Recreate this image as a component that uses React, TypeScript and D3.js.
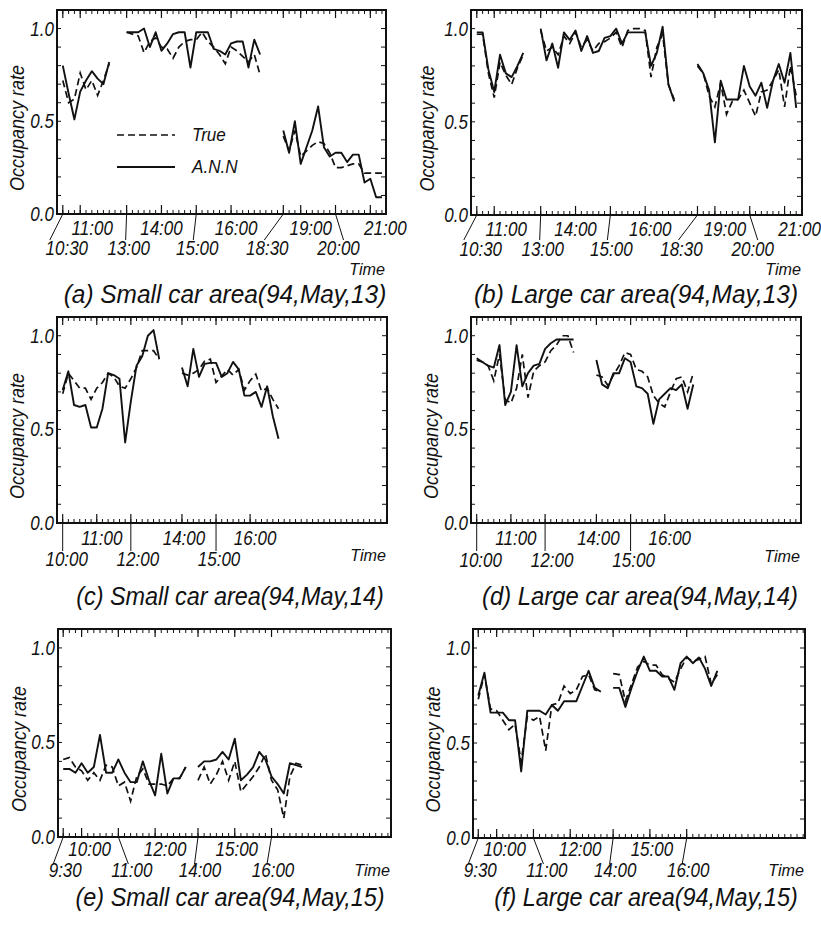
import * as d3 from 'd3';
import React from 'react';

// occupancy rate, one value per 10 minutes, one inner array per time segment
const annA = [
  [0.8, 0.65, 0.51, 0.66, 0.72, 0.77, 0.73, 0.7, 0.82],
  [0.98, 0.98, 0.98, 1.0, 0.9, 0.98, 0.88, 0.92, 0.97, 0.98, 0.98, 0.79, 0.98, 0.98, 0.98, 0.89, 0.88, 0.86, 0.92, 0.93, 0.93, 0.79, 0.94, 0.86],
  [0.45, 0.33, 0.5, 0.27, 0.36, 0.45, 0.58, 0.36, 0.31, 0.33, 0.33, 0.28, 0.32, 0.32, 0.17, 0.19, 0.09, 0.09],
];
const trueA = [
  [0.72, 0.6, 0.62, 0.76, 0.67, 0.72, 0.64, 0.72, 0.81],
  [0.98, 0.97, 0.96, 0.87, 0.93, 0.95, 0.9, 0.89, 0.84, 0.9, 0.93, 0.94, 0.94, 0.98, 0.93, 0.9, 0.86, 0.81, 0.9, 0.88, 0.85, 0.82, 0.86, 0.75],
  [0.42, 0.34, 0.45, 0.31, 0.34, 0.37, 0.39, 0.38, 0.33, 0.25, 0.25, 0.26, 0.27, 0.27, 0.22, 0.22, 0.22, 0.22],
];
const annB = [
  [0.98, 0.98, 0.78, 0.66, 0.86, 0.76, 0.74, 0.8, 0.87],
  [1.0, 0.83, 0.92, 0.79, 0.98, 0.94, 0.99, 0.88, 0.96, 0.87, 0.88, 0.95, 0.96, 1.0, 0.92, 0.98, 0.98, 0.98, 0.98, 0.8, 0.87, 1.01, 0.7, 0.61],
  [0.81, 0.76, 0.67, 0.39, 0.72, 0.62, 0.62, 0.62, 0.8, 0.69, 0.64, 0.71, 0.575, 0.72, 0.81, 0.71, 0.87, 0.575],
];
const trueB = [
  [0.97, 0.97, 0.76, 0.63, 0.82, 0.75, 0.7, 0.79, 0.86],
  [0.99, 0.88, 0.9, 0.86, 0.96, 0.92, 0.98, 0.9, 0.94, 0.88, 0.92, 0.93, 0.95, 0.98, 0.9, 0.99, 1.0, 1.0, 0.99, 0.74, 0.9, 0.97, 0.7, 0.62],
  [0.8, 0.76, 0.64, 0.58, 0.71, 0.54, 0.61, 0.62, 0.67, 0.6, 0.53, 0.66, 0.67, 0.72, 0.78, 0.58, 0.8, 0.64],
];
const annC = [
  [0.71, 0.81, 0.63, 0.62, 0.63, 0.51, 0.51, 0.61, 0.8, 0.79, 0.77, 0.43, 0.65, 0.84, 0.89, 1.0, 1.03, 0.875],
  [0.83, 0.73, 0.93, 0.78, 0.85, 0.855, 0.855, 0.78, 0.8, 0.86, 0.82, 0.68, 0.68, 0.7, 0.62, 0.73, 0.57, 0.45],
];
const trueC = [
  [0.69, 0.8, 0.76, 0.72, 0.72, 0.66, 0.72, 0.75, 0.8, 0.78, 0.73, 0.72, 0.77, 0.83, 0.92, 0.92, 0.92, 0.875],
  [0.8, 0.79, 0.8, 0.82, 0.865, 0.875, 0.75, 0.785, 0.82, 0.79, 0.82, 0.71, 0.76, 0.795, 0.705, 0.72, 0.66, 0.61],
];
const annD = [
  [0.88, 0.86, 0.84, 0.83, 0.95, 0.63, 0.7, 0.95, 0.73, 0.8, 0.84, 0.85, 0.93, 0.96, 0.98, 0.98, 0.98, 0.98],
  [0.87, 0.74, 0.72, 0.8, 0.8, 0.88, 0.86, 0.73, 0.72, 0.69, 0.53, 0.66, 0.69, 0.72, 0.71, 0.74, 0.61, 0.74],
];
const trueD = [
  [0.87, 0.86, 0.84, 0.76, 0.9, 0.66, 0.64, 0.72, 0.9, 0.67, 0.81, 0.84, 0.86, 0.92, 0.95, 1.0, 1.0, 0.91],
  [0.79, 0.78, 0.735, 0.79, 0.84, 0.91, 0.9, 0.82, 0.81, 0.78, 0.68, 0.64, 0.62, 0.7, 0.77, 0.78, 0.7, 0.8],
];
const annE = [
  [0.36, 0.36, 0.34, 0.39, 0.34, 0.37, 0.54, 0.34, 0.34, 0.41, 0.34, 0.29, 0.29, 0.4, 0.3, 0.22, 0.44, 0.23, 0.31, 0.31, 0.37],
  [0.37, 0.4, 0.4, 0.41, 0.45, 0.41, 0.52, 0.3, 0.33, 0.37, 0.45, 0.41, 0.32, 0.28, 0.23, 0.39, 0.38, 0.37],
];
const trueE = [
  [0.41, 0.42, 0.37, 0.35, 0.3, 0.34, 0.3, 0.38, 0.37, 0.27, 0.29, 0.19, 0.32, 0.36, 0.28, 0.28, 0.28, 0.27, 0.31, 0.31, 0.37],
  [0.3, 0.37, 0.28, 0.33, 0.4, 0.3, 0.4, 0.24, 0.28, 0.32, 0.37, 0.44, 0.3, 0.25, 0.1, 0.32, 0.39, 0.38],
];
const annF = [
  [0.75, 0.87, 0.66, 0.66, 0.66, 0.62, 0.62, 0.35, 0.67, 0.67, 0.67, 0.65, 0.7, 0.67, 0.72, 0.72, 0.72, 0.8, 0.88, 0.79, 0.77],
  [0.79, 0.79, 0.69, 0.79, 0.88, 0.955, 0.88, 0.88, 0.85, 0.85, 0.78, 0.92, 0.955, 0.92, 0.95, 0.89, 0.8, 0.88],
];
const trueF = [
  [0.73, 0.86, 0.68, 0.67, 0.62, 0.57, 0.6, 0.4, 0.64, 0.62, 0.64, 0.46, 0.7, 0.71, 0.8, 0.76, 0.78, 0.85, 0.86, 0.78, 0.77],
  [0.865, 0.86, 0.72, 0.81, 0.9, 0.93, 0.91, 0.91, 0.86, 0.84, 0.82, 0.89, 0.95, 0.93, 0.94, 0.955, 0.81, 0.86],
];

// segment start times and the 10-minute step where each segment begins on the axis
const breaks13 = [['10:30', 0], ['13:00', 11], ['18:30', 38]];
const breaks14 = [['10:00', 0], ['14:00', 21]];
const breaks15 = [['9:30', 0], ['14:00', 22]];

const upper13 = ['11:00', '14:00', '16:00', '19:00', '21:00'];
const lower13 = ['10:30', '13:00', '15:00', '18:30', '20:00'];
const upper14 = ['11:00', '14:00', '16:00'];
const lower14 = ['10:00', '12:00', '15:00'];
const upper15 = ['10:00', '12:00', '15:00'];
const lower15 = ['9:30', '11:00', '14:00', '16:00'];

const yTicks = [0, 0.5, 1.0];
const titles = [
  '(a) Small car area(94,May,13)',
  '(b) Large car area(94,May,13)',
  '(c) Small car area(94,May,14)',
  '(d) Large car area(94,May,14)',
  '(e) Small car area(94,May,15)',
  '(f) Large car area(94,May,15)',
];
const legendNames = ['True', 'A.N.N'];

// layout: label nudges relative to their tick [labelDx, leaderDx]
const nudge13 = { up: [12, 0, 5, 10, 15], low: [[4, -13], [2, -1], [1, -3], [-16, -19], [3, 8]] };
const nudge14 = { up: [5, 2, 5], low: [[4, 0], [7, 0], [3, 0]] };
const nudge15 = { up: [8, 10, 2], low: [[2, -10], [13.5, 10], [2, -3.5], [1.5, -4.5]] };

const panels = [
  { box: [57, 386, 10, 214], dom: [-1, 55.7], breaks: breaks13, up: upper13, low: lower13, nudge: nudge13, ann: annA, tru: trueA, title: titles[0], tx: 225, ty: 303, ts: 26, tsx: 0.94, yl: 17, rows: [235, 255, 240], timeY: 275, legend: true },
  { box: [471, 802, 10, 215], dom: [-1, 56], breaks: breaks13, up: upper13, low: lower13, nudge: nudge13, ann: annB, tru: trueB, title: titles[1], tx: 636, ty: 303, ts: 26, tsx: 0.94, yl: 427, rows: [236, 256, 240], timeY: 275 },
  { box: [57, 387, 317, 523], dom: [-1, 57.1], breaks: breaks14, up: upper14, low: lower14, nudge: nudge14, ann: annC, tru: trueC, title: titles[2], tx: 230, ty: 605, ts: 26, tsx: 0.9, yl: 17, rows: [545, 566, 551], timeY: 561 },
  { box: [471, 801, 317, 523], dom: [-1, 56.9], breaks: breaks14, up: upper14, low: lower14, nudge: nudge14, ann: annD, tru: trueD, title: titles[3], tx: 640, ty: 605, ts: 26.5, tsx: 0.9, yl: 431, rows: [545, 567, 551], timeY: 562 },
  { box: [58, 391, 629, 837], dom: [-0.85, 53.5], breaks: breaks15, up: upper15, low: lower15, nudge: nudge15, ann: annE, tru: trueE, title: titles[4], tx: 230, ty: 906, ts: 26, tsx: 0.9, yl: 19, rows: [856, 877, 864], timeY: 876 },
  { box: [473, 805, 629, 838], dom: [-0.86, 53.3], breaks: breaks15, up: upper15, low: lower15, nudge: nudge15, ann: annF, tru: trueF, title: titles[5], tx: 646, ty: 906, ts: 26, tsx: 0.9, yl: 433, rows: [856, 877, 864], timeY: 876 },
];

const FONT = "'Liberation Sans', Arial, Helvetica, sans-serif";

const mins = (t) => {
  const [h, m] = t.split(':').map(Number);
  return h * 60 + m;
};
const stepOf = (t, breaks) => {
  let b = breaks[0];
  breaks.forEach((br) => {
    if (mins(br[0]) <= mins(t)) b = br;
  });
  return b[1] + (mins(t) - mins(b[0])) / 10;
};

const Txt = ({ x, y, size, sx = 0.85, anchor = 'middle', rot = 0, children }) => (
  <text
    transform={`translate(${x},${y})${rot ? ` rotate(${rot})` : ''} scale(${sx},1)`}
    fontSize={size}
    textAnchor={anchor}
    fontStyle="italic"
    fontFamily={FONT}
    fill="#111"
  >
    {children}
  </text>
);

const Panel = ({ p }) => {
  const [x0, x1, y0, y1] = p.box;
  const x = d3.scaleLinear().domain(p.dom).range([x0, x1]);
  const y = d3.scaleLinear().domain([0, 1.1]).range([y1, y0]);
  const line = d3
    .line()
    .x((d) => x(d[0]))
    .y((d) => y(d[1]));
  const toPts = (segs) => segs.map((vals, k) => vals.map((v, j) => [p.breaks[k][1] + j, v]));

  const minor = d3.range(0, Math.floor(p.dom[1]) + 1);
  const labeled = [...p.up, ...p.low].map((t) => stepOf(t, p.breaks));
  const yMinor = d3.range(1, 11).map((d) => d / 10);
  const [upperY, lowerY, leadEnd] = p.rows;

  return (
    <g>
      {toPts(p.tru).map((pts, i) => (
        <path key={'t' + i} d={line(pts)} fill="none" stroke="#111" strokeWidth={1.7} strokeDasharray="7,4" />
      ))}
      {toPts(p.ann).map((pts, i) => (
        <path key={'a' + i} d={line(pts)} fill="none" stroke="#111" strokeWidth={1.9} strokeLinejoin="round" />
      ))}

      {minor.map((s) => (
        <g key={'m' + s} stroke="#111" strokeWidth={1}>
          <line x1={x(s)} x2={x(s)} y1={y1} y2={y1 - 4} />
          <line x1={x(s)} x2={x(s)} y1={y0} y2={y0 + 4} />
        </g>
      ))}
      {labeled.map((s, i) => (
        <g key={'M' + i} stroke="#111" strokeWidth={1.2}>
          <line x1={x(s)} x2={x(s)} y1={y1} y2={y1 - 9} />
          <line x1={x(s)} x2={x(s)} y1={y0} y2={y0 + 8} />
        </g>
      ))}
      {yMinor.map((v) => (
        <g key={'y' + v} stroke="#111" strokeWidth={1}>
          <line x1={x0} x2={x0 + 4} y1={y(v)} y2={y(v)} />
          <line x1={x1} x2={x1 - 5} y1={y(v)} y2={y(v)} />
        </g>
      ))}
      <rect x={x0} y={y0} width={x1 - x0} height={y1 - y0} fill="none" stroke="#111" strokeWidth={2} />

      {yTicks.map((v) => (
        <Txt key={'yl' + v} x={x0 - 3} y={y(v) + 7} size={20} anchor="end">
          {v.toFixed(1)}
        </Txt>
      ))}

      {p.up.map((t, i) => (
        <Txt key={'u' + t} x={x(stepOf(t, p.breaks)) + p.nudge.up[i]} y={upperY} size={20}>
          {t}
        </Txt>
      ))}
      {p.low.map((t, i) => {
        const sx = x(stepOf(t, p.breaks));
        const [dx, ldx] = p.nudge.low[i];
        return (
          <g key={'l' + t}>
            <line x1={sx} x2={sx + ldx} y1={y1} y2={leadEnd} stroke="#111" strokeWidth={1} />
            <Txt x={sx + dx} y={lowerY} size={20}>
              {t}
            </Txt>
          </g>
        );
      })}

      <Txt x={x1 - 1} y={p.timeY} size={17} sx={0.95} anchor="end">
        Time
      </Txt>
      <Txt x={p.yl + 7} y={(y0 + y1) / 2 + 16} size={20} sx={0.9} rot={-90}>
        Occupancy rate
      </Txt>
      <Txt x={p.tx} y={p.ty} size={p.ts} sx={p.tsx}>
        {p.title}
      </Txt>

      {p.legend && (
        <g>
          <line x1={117} x2={175} y1={135} y2={135} stroke="#111" strokeWidth={1.7} strokeDasharray="7,4" />
          <line x1={117} x2={175} y1={167} y2={167} stroke="#111" strokeWidth={1.9} />
          <Txt x={192} y={141} size={19} sx={0.9} anchor="start">
            {legendNames[0]}
          </Txt>
          <Txt x={192} y={173} size={19} sx={0.9} anchor="start">
            {legendNames[1]}
          </Txt>
        </g>
      )}
    </g>
  );
};

const App = () => (
  <svg width={821} height={927} style={{ position: 'absolute', left: 0, top: 0, background: '#fff' }}>
    <rect width={821} height={927} fill="#fff" />
    {panels.map((p, i) => (
      <Panel key={i} p={p} />
    ))}
  </svg>
);

export default App;
